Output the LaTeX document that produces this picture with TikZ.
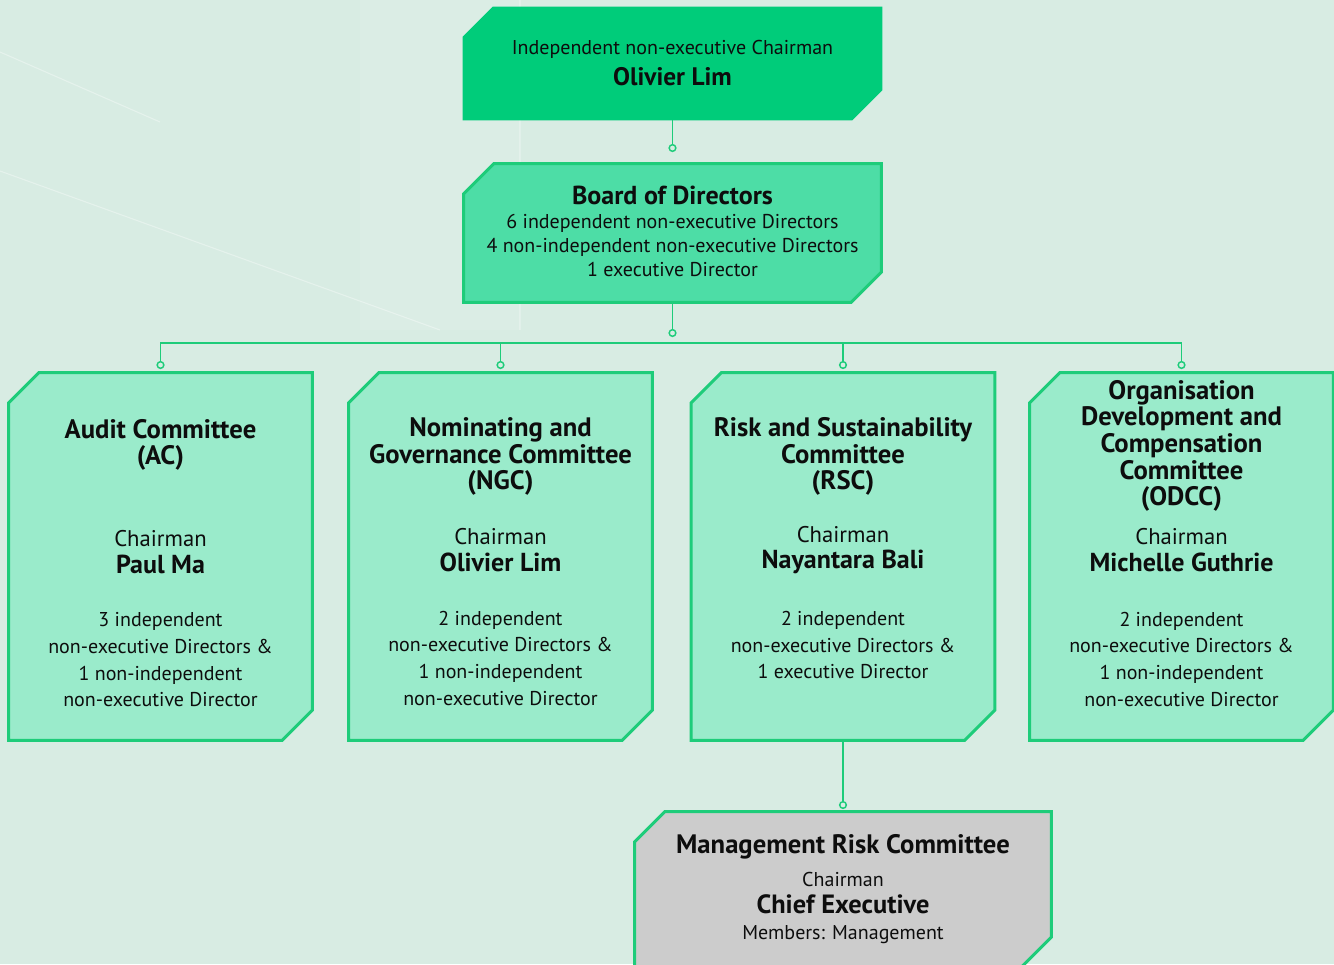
\documentclass[tikz,border=0pt]{standalone}
\usepackage{fontspec}
\setmainfont{PT Sans}
\definecolor{bgmint}{HTML}{D8ECE3}
\definecolor{chairgreen}{HTML}{00CC7A}
\definecolor{boardgreen}{HTML}{4DDDA6}
\definecolor{commgreen}{HTML}{9AEBCB}
\definecolor{edgegreen}{HTML}{1ECC7A}
\definecolor{mrcgrey}{HTML}{CCCCCC}
\definecolor{inkdark}{HTML}{0D0D0D}

% chamfered frame round a named box node
\newcommand\cutframe[2]{%
  \filldraw[#2, line join=miter]
    ([yshift=-22.5pt]#1.north west) -- ([xshift=22.5pt]#1.north west) -- (#1.north east)
    -- ([yshift=22.5pt]#1.south east) -- ([xshift=-22.5pt]#1.south east) -- (#1.south west) -- cycle;}

% chairman line inside a committee box
\newcommand\chairof[1]{{\fontsize{17pt}{19.5pt}\selectfont Chairman}\\\textbf{\fontsize{19.5pt}{19.5pt}\selectfont #1}}

\begin{document}
\begin{tikzpicture}[
    x=0.75pt,
    y=-0.75pt,
    frame/.style={rectangle, draw=none, inner sep=0pt},
    txt/.style={align=center, inner sep=0pt, text=inkdark, font=\fontsize{15pt}{20pt}\selectfont},
    head/.style={align=center, inner sep=0pt, text=inkdark, font=\fontsize{20pt}{20pt}\selectfont\bfseries},
    wire/.style={draw=edgegreen, line width=1.4pt},
    dot/.style={circle, draw=edgegreen, fill=bgmint, line width=1.1pt, minimum size=5pt, inner sep=0pt},
]

% Page and background
\useasboundingbox (0,0) rectangle (1334,964);
\clip (0,0) rectangle (1334,964);
\fill[bgmint] (0,0) rectangle (1334,964);
\fill[white, opacity=0.1] (360,0) rectangle (520,330);
\draw[white, opacity=0.35, line width=0.8pt] (0,52) -- (160,122);
\draw[white, opacity=0.35, line width=0.8pt] (0,171) -- (440,330);
\draw[white, opacity=0.25, line width=1.2pt] (520,0) -- (520,330);

% Box sizes
\def\cw{303}
\def\ch{367}

% Chairman and board
\node[frame, minimum width=419*0.75pt, minimum height=113*0.75pt] (chair) at (672.5,63.5) {};
\node[frame, minimum width=417*0.75pt, minimum height=138*0.75pt] (board) at (672.5,233) {};

% Committees
\node[frame, minimum width=\cw*0.75pt, minimum height=\ch*0.75pt] (ac) at (160.5,556.5) {};
\node[frame, minimum width=\cw*0.75pt, minimum height=\ch*0.75pt] (ngc) at (500.5,556.5) {};
\node[frame, minimum width=\cw*0.75pt, minimum height=\ch*0.75pt] (rsc) at (843,556.5) {};
\node[frame, minimum width=\cw*0.75pt, minimum height=\ch*0.75pt] (odcc) at (1181.5,556.5) {};

% Management risk committee
\node[frame, minimum width=416*0.75pt, minimum height=155*0.75pt] (mrc) at (843,889.5) {};

\cutframe{chair}{fill=chairgreen, draw=none}
\cutframe{board}{fill=boardgreen, draw=edgegreen, line width=2.25pt}
\cutframe{ac}{fill=commgreen, draw=edgegreen, line width=2.25pt}
\cutframe{ngc}{fill=commgreen, draw=edgegreen, line width=2.25pt}
\cutframe{rsc}{fill=commgreen, draw=edgegreen, line width=2.25pt}
\cutframe{odcc}{fill=commgreen, draw=edgegreen, line width=2.25pt}
\cutframe{mrc}{fill=mrcgrey, draw=edgegreen, line width=2.25pt}

% Connector ends
\node[dot] (chairdot) at (672.5,148) {};
\node[dot] (boarddot) at (672.5,333) {};
\node[dot] (acdot) at (160.5,365) {};
\node[dot] (ngcdot) at (500.5,365) {};
\node[dot] (rscdot) at (843,365) {};
\node[dot] (odccdot) at (1181.5,365) {};
\node[dot] (mrcdot) at (843,805) {};
\coordinate (busleft) at (160.5,343);
\coordinate (busright) at (1181.5,343);

% Connectors
\draw[wire] (chair.south) -- (chairdot.north);
\draw[wire] (board.south) -- (boarddot.north);
\draw[wire] (acdot.north) -- (busleft) -- (busright) -- (odccdot.north);
\draw[wire] (ngcdot.north) -- (ngcdot.north |- busleft);
\draw[wire] (rscdot.north) -- (rscdot.north |- busleft);
\draw[wire] (rsc.south) -- (mrcdot.north);

% Texts
\node[txt] (chairrole) at (672.5,49) {Independent non-executive Chairman};
\node[head, font=\fontsize{19pt}{20pt}\selectfont\bfseries] (chairname) at (672.5,77) {Olivier Lim};

\node[head, font=\fontsize{19.5pt}{20pt}\selectfont\bfseries] (boardtitle) at (672.5,195) {Board of Directors};
\node[txt, font=\fontsize{15pt}{18pt}\selectfont] (boardbody) at (672.5,245)
    {6 independent non-executive Directors\\4 non-independent non-executive Directors\\1 executive Director};

\node[head] (actitle) at (160.5,445) {Audit Committee\\(AC)};
\node[txt] (acchair) at (160.5,552) {\chairof{Paul Ma}};
\node[txt] (acbody) at (160.5,660)
    {3 independent\\non-executive Directors \&\\1 non-independent\\non-executive Director};

\node[head] (ngctitle) at (500.5,456.5) {Nominating and\\Governance Committee\\(NGC)};
\node[txt] (ngcchair) at (500.5,550) {\chairof{Olivier Lim}};
\node[txt] (ngcbody) at (500.5,658)
    {2 independent\\non-executive Directors \&\\1 non-independent\\non-executive Director};

\node[head] (rsctitle) at (843,456.5) {Risk and Sustainability\\Committee\\(RSC)};
\node[txt] (rscchair) at (843,550) {\chairof{Nayantara Bali}};
\node[txt] (rscbody) at (843,645)
    {2 independent\\non-executive Directors \&\\1 executive Director};

\node[head] (odcctitle) at (1181.5,446) {Organisation\\Development and\\Compensation\\Committee\\(ODCC)};
\node[txt] (odccchair) at (1181.5,550) {\chairof{Michelle Guthrie}};
\node[txt] (odccbody) at (1181.5,659)
    {2 independent\\non-executive Directors \&\\1 non-independent\\non-executive Director};

\node[head] (mrctitle) at (843,847) {Management Risk Committee};
\node[txt] (mrcbody) at (843,908)
    {Chairman\\\textbf{\fontsize{19.8pt}{20pt}\selectfont Chief Executive}\\Members: Management};

\end{tikzpicture}
\end{document}
